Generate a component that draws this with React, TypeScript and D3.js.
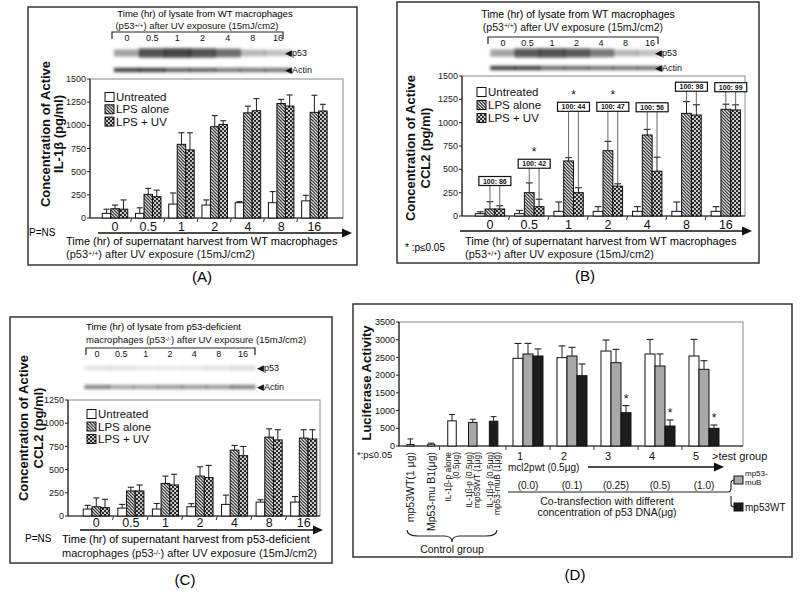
import React from "react";
import * as d3 from "d3";

const FONT = "Liberation Sans, Arial, Helvetica, sans-serif";

const timeCats = ["0", "0.5", "1", "2", "4", "8", "16"];
const seriesNames = ["Untreated", "LPS alone", "LPS + UV"];

// Panel A: IL-1beta, WT macrophages
const aUntreated = [50, 50, 150, 140, 165, 165, 185];
const aUntreatedSd = [45, 60, 120, 55, 12, 120, 60];
const aLps = [100, 255, 795, 985, 1135, 1235, 1140];
const aLpsSd = [40, 65, 125, 120, 72, 45, 185];
const aLpsUv = [95, 230, 735, 1010, 1158, 1208, 1155];
const aLpsUvSd = [100, 70, 185, 40, 130, 120, 72];
const aP53 = [0.45, 0.85, 0.9, 0.85, 0.7, 0.35, 0.3];
const aActin = [0.85, 0.85, 0.7, 0.7, 0.6, 0.6, 0.6];

// Panel B: CCL2, WT macrophages
const bUntreated = [25, 25, 50, 50, 50, 50, 50];
const bUntreatedSd = [20, 35, 100, 50, 50, 100, 50];
const bLps = [75, 250, 590, 700, 868, 1100, 1143];
const bLpsSd = [78, 105, 35, 100, 60, 125, 55];
const bLpsUv = [75, 100, 250, 320, 480, 1082, 1136];
const bLpsUvSd = [35, 80, 53, 25, 150, 110, 55];
const bRatioLabels = ["100: 86", "100: 42", "100: 44", "100: 47", "100: 56", "100: 98", "100: 99"];
const bRatioLevel = [375, 560, 1170, 1170, 1165, 1385, 1380];
const bSignificant = [false, true, true, true, false, false, false];
const bP53 = [0.45, 0.8, 0.85, 0.8, 0.65, 0.35, 0.3];
const bActin = [0.85, 0.85, 0.65, 0.65, 0.6, 0.6, 0.6];

// Panel C: CCL2, p53-deficient macrophages
const cUntreated = [75, 85, 75, 100, 125, 150, 150];
const cUntreatedSd = [40, 40, 60, 33, 100, 25, 60];
const cLps = [100, 270, 350, 430, 710, 850, 840];
const cLpsSd = [95, 40, 80, 100, 50, 90, 90];
const cLpsUv = [90, 270, 335, 415, 650, 820, 830];
const cLpsUvSd = [90, 64, 115, 130, 100, 110, 100];
const cP53 = [0.12, 0.12, 0.1, 0.1, 0.1, 0.12, 0.15];
const cActin = [0.55, 0.4, 0.4, 0.45, 0.45, 0.45, 0.55];

// Panel D: luciferase
const controlLabels = [
  ["mp53WT(1 μg)"],
  ["Mp53-mu B1(μg)"],
  ["IL-1β-p alone", "(0.5μg)"],
  ["IL-1β-p (0.5μg)", "mp53WT (1μg)"],
  ["IL-1β-p (0.5μg)", "mp53-muB (1μg)"],
];
const controlValues = [40, 50, 710, 665, 700];
const controlSd = [160, 30, 180, 90, 130];
const controlKind = ["white", "white", "white", "gray", "black"];
const testGroups = ["1", "2", "3", "4", "5"];
const dnaConc = ["(0.0)", "(0.1)", "(0.25)", "(0.5)", "(1.0)"];
const mcl2Only = [2475, 2494, 2681, 2597, 2540];
const mcl2OnlySd = [420, 330, 310, 410, 470];
const withMuB = [2597, 2540, 2352, 2258, 2164];
const withMuBSd = [300, 245, 376, 340, 244];
const withWT = [2540, 1985, 941, 564, 498];
const withWTSd = [200, 330, 200, 170, 95];
const wtSignificant = [false, false, true, true, true];

const KIND_FILL: Record<string, string> = { white: "#fff", gray: "#a8a8a8", black: "#1c1c1c" };
const SERIES_FILL = ["#fff", "url(#hatch)", "url(#dots)"];

type GroupProps = {
  means: number[][];
  sds: number[][];
  yMax: number;
  yStep: number;
  left: number;
  right: number;
  top: number;
  bottom: number;
  bandL: number;
  bandR: number;
  barW: number;
  legendX: number;
  legendY: number;
  legendGap: number;
  labelY: number;
  arrowY: number;
  arrowX0: number;
  arrowX1: number;
  ratio?: boolean;
};

function Arrow({ x0, x1, y }: { x0: number; x1: number; y: number }) {
  return (
    <g>
      <line x1={x0} x2={x1 - 8} y1={y} y2={y} stroke="#111" strokeWidth={1.6} />
      <path d={`M${x1},${y} L${x1 - 10},${y - 4.5} L${x1 - 10},${y + 4.5} Z`} fill="#111" />
    </g>
  );
}

function GroupChart(p: GroupProps) {
  const y = d3.scaleLinear().domain([0, p.yMax]).range([p.bottom, p.top]);
  const x = d3.scaleBand().domain(timeCats).range([p.bandL, p.bandR]).paddingInner(0);
  const ticks = d3.range(0, p.yMax + 1, p.yStep);
  const bw = x.bandwidth();
  return (
    <g>
      <rect x={p.left} y={p.top} width={p.right - p.left} height={p.bottom - p.top} fill="none" stroke="#8a8a8a" strokeWidth={1} />
      <line x1={p.left} x2={p.left} y1={p.top} y2={p.bottom} stroke="#222" strokeWidth={1.2} />
      <line x1={p.left} x2={p.right} y1={p.bottom} y2={p.bottom} stroke="#222" strokeWidth={1.2} />
      {ticks.map((t) => (
        <g key={t}>
          <line x1={p.left - 3} x2={p.left} y1={y(t)} y2={y(t)} stroke="#222" />
          <text x={p.left - 4} y={y(t)} dy="0.35em" textAnchor="end" fontSize={9} fontFamily={FONT} fill="#222">
            {t}
          </text>
        </g>
      ))}
      {timeCats.slice(1).map((c) => (
        <line key={c} x1={x(c)!} x2={x(c)! - 1} y1={p.bottom} y2={p.bottom + 4} stroke="#333" strokeWidth={1} />
      ))}
      {timeCats.map((c, gi) => {
        const cx = x(c)! + bw / 2;
        return (
          <g key={c}>
            {p.means.map((ser, si) => {
              const bx = cx - 1.5 * p.barW + si * p.barW;
              const v = ser[gi];
              const top = y(v + p.sds[si][gi]);
              const mid = bx + p.barW / 2;
              return (
                <g key={si}>
                  <line x1={mid} x2={mid} y1={y(v)} y2={top} stroke="#222" strokeWidth={1} />
                  <line x1={mid - p.barW * 0.35} x2={mid + p.barW * 0.35} y1={top} y2={top} stroke="#222" strokeWidth={1.1} />
                  <rect x={bx} y={y(v)} width={p.barW} height={p.bottom - y(v)} fill={SERIES_FILL[si]} stroke="#111" strokeWidth={1} />
                </g>
              );
            })}
            <text x={cx} y={p.labelY} dy="0.35em" textAnchor="middle" fontSize={12.5} fontFamily={FONT} fill="#111">
              {c}
            </text>
            {p.ratio && (
              <g>
                {(() => {
                  const hx = cx - 0.5 * p.barW + p.barW / 2;
                  const dxp = cx + 0.5 * p.barW + p.barW / 2;
                  const bxc = (hx + dxp) / 2;
                  const by = y(bRatioLevel[gi]);
                  const hTop = y(p.means[1][gi] + p.sds[1][gi]);
                  const dTop = y(p.means[2][gi] + p.sds[2][gi]);
                  return (
                    <g>
                      <line x1={hx} x2={hx} y1={by + 4.5} y2={hTop} stroke="#666" strokeWidth={1} />
                      <line x1={dxp} x2={dxp} y1={by + 4.5} y2={dTop} stroke="#666" strokeWidth={1} />
                      <rect x={bxc - 16} y={by - 4.5} width={32} height={9} fill="#fff" stroke="#111" strokeWidth={1.2} />
                      <text x={bxc} y={by} dy="0.36em" textAnchor="middle" fontSize={7} fontWeight="bold" fontFamily={FONT} fill="#111">
                        {bRatioLabels[gi]}
                      </text>
                      {bSignificant[gi] && (
                        <text x={bxc} y={by - 8} textAnchor="middle" fontSize={12} fontFamily={FONT} fill="#111">
                          *
                        </text>
                      )}
                    </g>
                  );
                })()}
              </g>
            )}
          </g>
        );
      })}
      {seriesNames.map((s, i) => (
        <g key={s}>
          <rect x={p.legendX} y={p.legendY + i * p.legendGap - 4.5} width={9} height={9} fill={SERIES_FILL[i]} stroke="#111" strokeWidth={1} />
          <text x={p.legendX + 11} y={p.legendY + i * p.legendGap} dy="0.36em" fontSize={11.5} fontFamily={FONT} fill="#111">
            {s}
          </text>
        </g>
      ))}
      <Arrow x0={p.arrowX0} x1={p.arrowX1} y={p.arrowY} />
    </g>
  );
}

function Blot({ x0, x1, p53Y, actinY, p53, actin, labelX, bracketY, bracketX0, bracketX1, laneLabelY }: any) {
  const lane = d3.scalePoint().domain(timeCats).range([x0, x1]);
  const step = (x1 - x0) / (timeCats.length - 1);
  return (
    <g>
      <path
        d={`M${bracketX0},${bracketY + 7} L${bracketX0},${bracketY} L${bracketX1},${bracketY} L${bracketX1},${bracketY + 7}`}
        fill="none"
        stroke="#222"
        strokeWidth={1.2}
      />
      {timeCats.map((c) => (
        <text key={c} x={lane(c)} y={laneLabelY} dy="0.35em" textAnchor="middle" fontSize={9} fontFamily={FONT} fill="#111">
          {c}
        </text>
      ))}
      <g filter="url(#blur)">
        {timeCats.map((c, i) => (
          <rect key={"p" + c} x={lane(c)! - step / 2 - 0.5} y={p53Y - 2.5 - p53[i] * 2.5} width={step + 1} height={5 + p53[i] * 5} fill="#000" opacity={p53[i] * 0.8} />
        ))}
        {timeCats.map((c, i) => (
          <rect key={"a" + c} x={lane(c)! - step / 2 - 0.5} y={actinY - 2.2} width={step + 1} height={4.4} fill="#000" opacity={actin[i] * 0.85} />
        ))}
      </g>
      <text x={labelX} y={p53Y} dy="0.35em" fontSize={9} fontFamily={FONT} fill="#111">
        ◀p53
      </text>
      <text x={labelX} y={actinY} dy="0.35em" fontSize={9} fontFamily={FONT} fill="#111">
        ◀Actin
      </text>
    </g>
  );
}

function YTitle({ x1, x2, y, line2 }: { x1: number; x2: number; y: number; line2: React.ReactNode }) {
  return (
    <g fontFamily={FONT} fontWeight="bold" fontSize={13} fill="#111">
      <text transform={`translate(${x1},${y}) rotate(-90)`} textAnchor="middle" dy="0.35em">
        Concentration of Active
      </text>
      <text transform={`translate(${x2},${y}) rotate(-90)`} textAnchor="middle" dy="0.35em">
        {line2}
      </text>
    </g>
  );
}

function SupLine({ x, y, size, pre, sup, post, anchor }: { x: number; y: number; size: number; pre: string; sup: string; post: string; anchor?: string }) {
  return (
    <text x={x} y={y + size * 0.35} fontSize={size} textAnchor={anchor || "start"} fontFamily={FONT} fill="#111">
      <tspan>{pre}</tspan>
      <tspan dy={-2.2} fontSize={size * 0.65}>
        {sup}
      </tspan>
      <tspan dy={2.2}>{post}</tspan>
    </text>
  );
}

function PanelD() {
  const y = d3.scaleLinear().domain([0, 3500]).range([446, 322]);
  const left = 399, right = 743, top = 322, bottom = 446;
  const xc = d3.scaleBand().domain(controlLabels.map((_, i) => String(i))).range([400, 504]);
  const xt = d3.scaleBand().domain(testGroups).range([506, 726]);
  const barW = 10;
  const testSeries = [
    { v: mcl2Only, sd: mcl2OnlySd, fill: KIND_FILL.white },
    { v: withMuB, sd: withMuBSd, fill: KIND_FILL.gray },
    { v: withWT, sd: withWTSd, fill: KIND_FILL.black },
  ];
  const seps = [xc("2")! - 2, ...testGroups.map((g) => xt(g)!)];
  return (
    <g fontFamily={FONT} fill="#111">
      <rect x={left} y={top} width={right - left} height={bottom - top} fill="none" stroke="#8a8a8a" />
      <line x1={left} x2={left} y1={top} y2={bottom} stroke="#222" strokeWidth={1.2} />
      <line x1={left} x2={right} y1={bottom} y2={bottom} stroke="#222" strokeWidth={1.2} />
      {d3.range(0, 3501, 500).map((t) => (
        <g key={t}>
          <line x1={left - 3} x2={left} y1={y(t)} y2={y(t)} stroke="#222" />
          <text x={left - 4} y={y(t)} dy="0.35em" textAnchor="end" fontSize={9}>
            {t}
          </text>
        </g>
      ))}
      {seps.map((s, i) => (
        <line key={i} x1={s} x2={s} y1={bottom} y2={bottom + 4} stroke="#333" />
      ))}
      {controlLabels.map((lab, i) => {
        const cx = xc(String(i))! + xc.bandwidth() / 2;
        const w = i < 2 ? 7 : 8.5;
        const v = controlValues[i];
        const t = y(v + controlSd[i]);
        const fs = lab.length > 1 ? 8.4 : 10.5;
        return (
          <g key={i}>
            <line x1={cx} x2={cx} y1={y(v)} y2={t} stroke="#222" />
            <line x1={cx - 3} x2={cx + 3} y1={t} y2={t} stroke="#222" />
            <rect x={cx - w / 2} y={y(v)} width={w} height={bottom - y(v)} fill={KIND_FILL[controlKind[i]]} stroke="#111" />
            {lab.map((l, li) => (
              <text
                key={li}
                transform={`translate(${cx + (li - (lab.length - 1) / 2) * 7.8},452) rotate(-90)`}
                textAnchor="end"
                dy="0.35em"
                fontSize={fs}
              >
                {l}
              </text>
            ))}
          </g>
        );
      })}
      {testGroups.map((g, gi) => {
        const cx = xt(g)! + xt.bandwidth() / 2;
        return (
          <g key={g}>
            {testSeries.map((s, si) => {
              const bx = cx - 1.5 * barW + si * barW;
              const v = s.v[gi];
              const t = y(v + s.sd[gi]);
              return (
                <g key={si}>
                  <line x1={bx + barW / 2} x2={bx + barW / 2} y1={y(v)} y2={t} stroke="#222" />
                  <line x1={bx + barW / 2 - 3.5} x2={bx + barW / 2 + 3.5} y1={t} y2={t} stroke="#222" strokeWidth={1.1} />
                  <rect x={bx} y={y(v)} width={barW} height={bottom - y(v)} fill={s.fill} stroke="#111" />
                </g>
              );
            })}
            {wtSignificant[gi] && (
              <text x={cx + barW} y={y(withWT[gi] + withWTSd[gi]) - 3} textAnchor="middle" fontSize={12}>
                *
              </text>
            )}
            <text x={cx - 8} y={456} dy="0.35em" textAnchor="middle" fontSize={11}>
              {g}
            </text>
            <text x={cx} y={485} dy="0.35em" textAnchor="middle" fontSize={10}>
              {dnaConc[gi]}
            </text>
          </g>
        );
      })}
      <text x={712} y={456} dy="0.35em" fontSize={11}>
        &gt;test group
      </text>
      <text x={508} y={467} dy="0.35em" fontSize={10}>
        mcl2pwt (0.5μg)
      </text>
      <Arrow x0={588} x1={724} y={467} />
      <line x1={508} x2={728} y1={492} y2={492} stroke="#222" strokeWidth={1.2} />
      <path d="M728,492 Q731,492 731,488 L731,483 Q731,480 734,480 M731,496 L731,504 Q731,507 734,507" fill="none" stroke="#222" strokeWidth={1.1} />
      <rect x={734} y={476} width={9} height={8} fill={KIND_FILL.gray} stroke="#111" />
      <text x={745} y={473} dy="0.35em" fontSize={8}>
        mp53-
      </text>
      <text x={745} y={482.5} dy="0.35em" fontSize={8}>
        muB
      </text>
      <rect x={734} y={503} width={9} height={8} fill={KIND_FILL.black} stroke="#111" />
      <text x={745} y={507.5} dy="0.35em" fontSize={10}>
        mp53WT
      </text>
      <text x={607} y={501} dy="0.35em" textAnchor="middle" fontSize={10.5}>
        Co-transfection with different
      </text>
      <text x={607} y={512} dy="0.35em" textAnchor="middle" fontSize={10.5}>
        concentration of p53 DNA(μg)
      </text>
      <path d="M407,530 Q407,536 418,536 L444,536 Q452,536 452,542 Q452,536 460,536 L486,536 Q497,536 497,530" fill="none" stroke="#222" strokeWidth={1.1} />
      <text x={452} y={549} dy="0.35em" textAnchor="middle" fontSize={10.5}>
        Control group
      </text>
      <text x={357} y={455} dy="0.35em" fontSize={9.5}>
        *:p≤0.05
      </text>
      <text transform={`translate(366,383) rotate(-90)`} textAnchor="middle" dy="0.35em" fontSize={13} fontWeight="bold">
        Luciferase Activity
      </text>
    </g>
  );
}

export default function App() {
  return (
    <svg width={800} height={594} style={{ position: "absolute", left: 0, top: 0, background: "#fff" }} fontFamily={FONT}>
      <defs>
        <pattern id="hatch" patternUnits="userSpaceOnUse" width={3.2} height={3.2}>
          <rect width={3.2} height={3.2} fill="#fff" />
          <path d="M-0.8,-0.8 L4,4 M-0.8,2.4 L0.8,4 M2.4,-0.8 L4,0.8" stroke="#111" strokeWidth={1.1} />
        </pattern>
        <pattern id="dots" patternUnits="userSpaceOnUse" width={4} height={4}>
          <rect width={4} height={4} fill="#2a2a2a" />
          <circle cx={1} cy={1} r={1} fill="#fff" />
          <circle cx={3} cy={3} r={1} fill="#fff" />
        </pattern>
        <filter id="blur" x="-10%" y="-100%" width="120%" height="300%">
          <feGaussianBlur stdDeviation={1.4} />
        </filter>
      </defs>
      <rect width={800} height={594} fill="#fff" />

      {/* Panel A */}
      <rect x={28} y={7} width={329} height={258} fill="none" stroke="#333" strokeWidth={1.5} />
      <text x={205} y={14} dy="0.35em" textAnchor="middle" fontSize={9.5}>
        Time (hr) of lysate from WT macrophages
      </text>
      <SupLine x={197} y={26} size={9.5} anchor="middle" pre="(p53" sup="+/+" post=") after UV exposure (15mJ/cm2)" />
      <Blot x0={127} x1={278} p53Y={53} actinY={70} p53={aP53} actin={aActin} labelX={285} bracketY={32} bracketX0={112} bracketX1={283} laneLabelY={38} />
      <GroupChart
        means={[aUntreated, aLps, aLpsUv]}
        sds={[aUntreatedSd, aLpsSd, aLpsUvSd]}
        yMax={1500}
        yStep={250}
        left={90}
        right={343}
        top={79}
        bottom={218}
        bandL={98.4}
        bandR={331}
        barW={8.5}
        legendX={105}
        legendY={97}
        legendGap={12.3}
        labelY={227}
        arrowY={233}
        arrowX0={98}
        arrowX1={352}
      />
      <YTitle x1={45} x2={58} y={134} line2="IL-1β (pg/ml)" />
      <text x={29} y={232} dy="0.35em" fontSize={10}>
        P=NS
      </text>
      <text x={66} y={241} dy="0.35em" fontSize={11}>
        Time (hr) of supernatant harvest from WT macrophages
      </text>
      <SupLine x={66} y={254} size={11} pre="(p53" sup="+/+" post=") after UV exposure (15mJ/cm2)" />
      <text x={202} y={277} dy="0.35em" textAnchor="middle" fontSize={15}>
        (A)
      </text>

      {/* Panel B */}
      <rect x={397} y={2} width={362} height={261} fill="none" stroke="#333" strokeWidth={1.5} />
      <text x={578} y={14} dy="0.35em" textAnchor="middle" fontSize={10.5}>
        Time (hr) of lysate from WT macrophages
      </text>
      <SupLine x={573} y={27} size={10.5} anchor="middle" pre="(p53" sup="+/+" post=") after UV exposure (15mJ/cm2)" />
      <Blot x0={503} x1={650} p53Y={53} actinY={68} p53={bP53} actin={bActin} labelX={655} bracketY={37} bracketX0={488} bracketX1={658} laneLabelY={43} />
      <GroupChart
        means={[bUntreated, bLps, bLpsUv]}
        sds={[bUntreatedSd, bLpsSd, bLpsUvSd]}
        yMax={1500}
        yStep={250}
        left={462}
        right={745}
        top={76}
        bottom={216}
        bandL={470.3}
        bandR={745.5}
        barW={9.8}
        legendX={477}
        legendY={92}
        legendGap={13}
        labelY={225}
        arrowY={231}
        arrowX0={460}
        arrowX1={752}
        ratio
      />
      <YTitle x1={410} x2={425} y={148} line2="CCL2 (pg/ml)" />
      <text x={405} y={247} dy="0.35em" fontSize={10}>
        * :p≤0.05
      </text>
      <text x={465} y={241} dy="0.35em" fontSize={11}>
        Time (hr) of supernatant harvest from WT macrophages
      </text>
      <SupLine x={465} y={254} size={11} pre="(p53" sup="+/+" post=") after UV exposure (15mJ/cm2)" />
      <text x={585} y={276} dy="0.35em" textAnchor="middle" fontSize={15}>
        (B)
      </text>

      {/* Panel C */}
      <rect x={10} y={317} width={322} height={246} fill="none" stroke="#333" strokeWidth={1.5} />
      <text x={86} y={327} dy="0.35em" fontSize={9.5}>
        Time (hr) of lysate from p53-deficient
      </text>
      <SupLine x={86} y={340} size={9.5} pre="macrophages (p53" sup="-/-" post=") after UV exposure (15mJ/cm2)" />
      <Blot x0={97} x1={243} p53Y={368} actinY={387} p53={cP53} actin={cActin} labelX={257} bracketY={348} bracketX0={86} bracketX1={255} laneLabelY={354} />
      <GroupChart
        means={[cUntreated, cLps, cLpsUv]}
        sds={[cUntreatedSd, cLpsSd, cLpsUvSd]}
        yMax={1250}
        yStep={250}
        left={68}
        right={320}
        top={400}
        bottom={516}
        bandL={79}
        bandR={321}
        barW={8.7}
        legendX={87}
        legendY={414}
        legendGap={12.5}
        labelY={523}
        arrowY={530}
        arrowX0={80}
        arrowX1={323}
      />
      <YTitle x1={23} x2={38} y={428} line2="CCL2 (pg/ml)" />
      <text x={25} y={538} dy="0.35em" fontSize={10}>
        P=NS
      </text>
      <text x={62} y={539} dy="0.35em" fontSize={11}>
        Time (hr) of supernatant harvest from p53-deficient
      </text>
      <SupLine x={62} y={553} size={11} pre="macrophages (p53" sup="-/-" post=") after UV exposure (15mJ/cm2)" />
      <text x={185} y={580} dy="0.35em" textAnchor="middle" fontSize={15}>
        (C)
      </text>

      {/* Panel D */}
      <rect x={353} y={304} width={439} height={253} fill="none" stroke="#333" strokeWidth={1.5} />
      <PanelD />
      <text x={575} y={575} dy="0.35em" textAnchor="middle" fontSize={15}>
        (D)
      </text>
    </svg>
  );
}
